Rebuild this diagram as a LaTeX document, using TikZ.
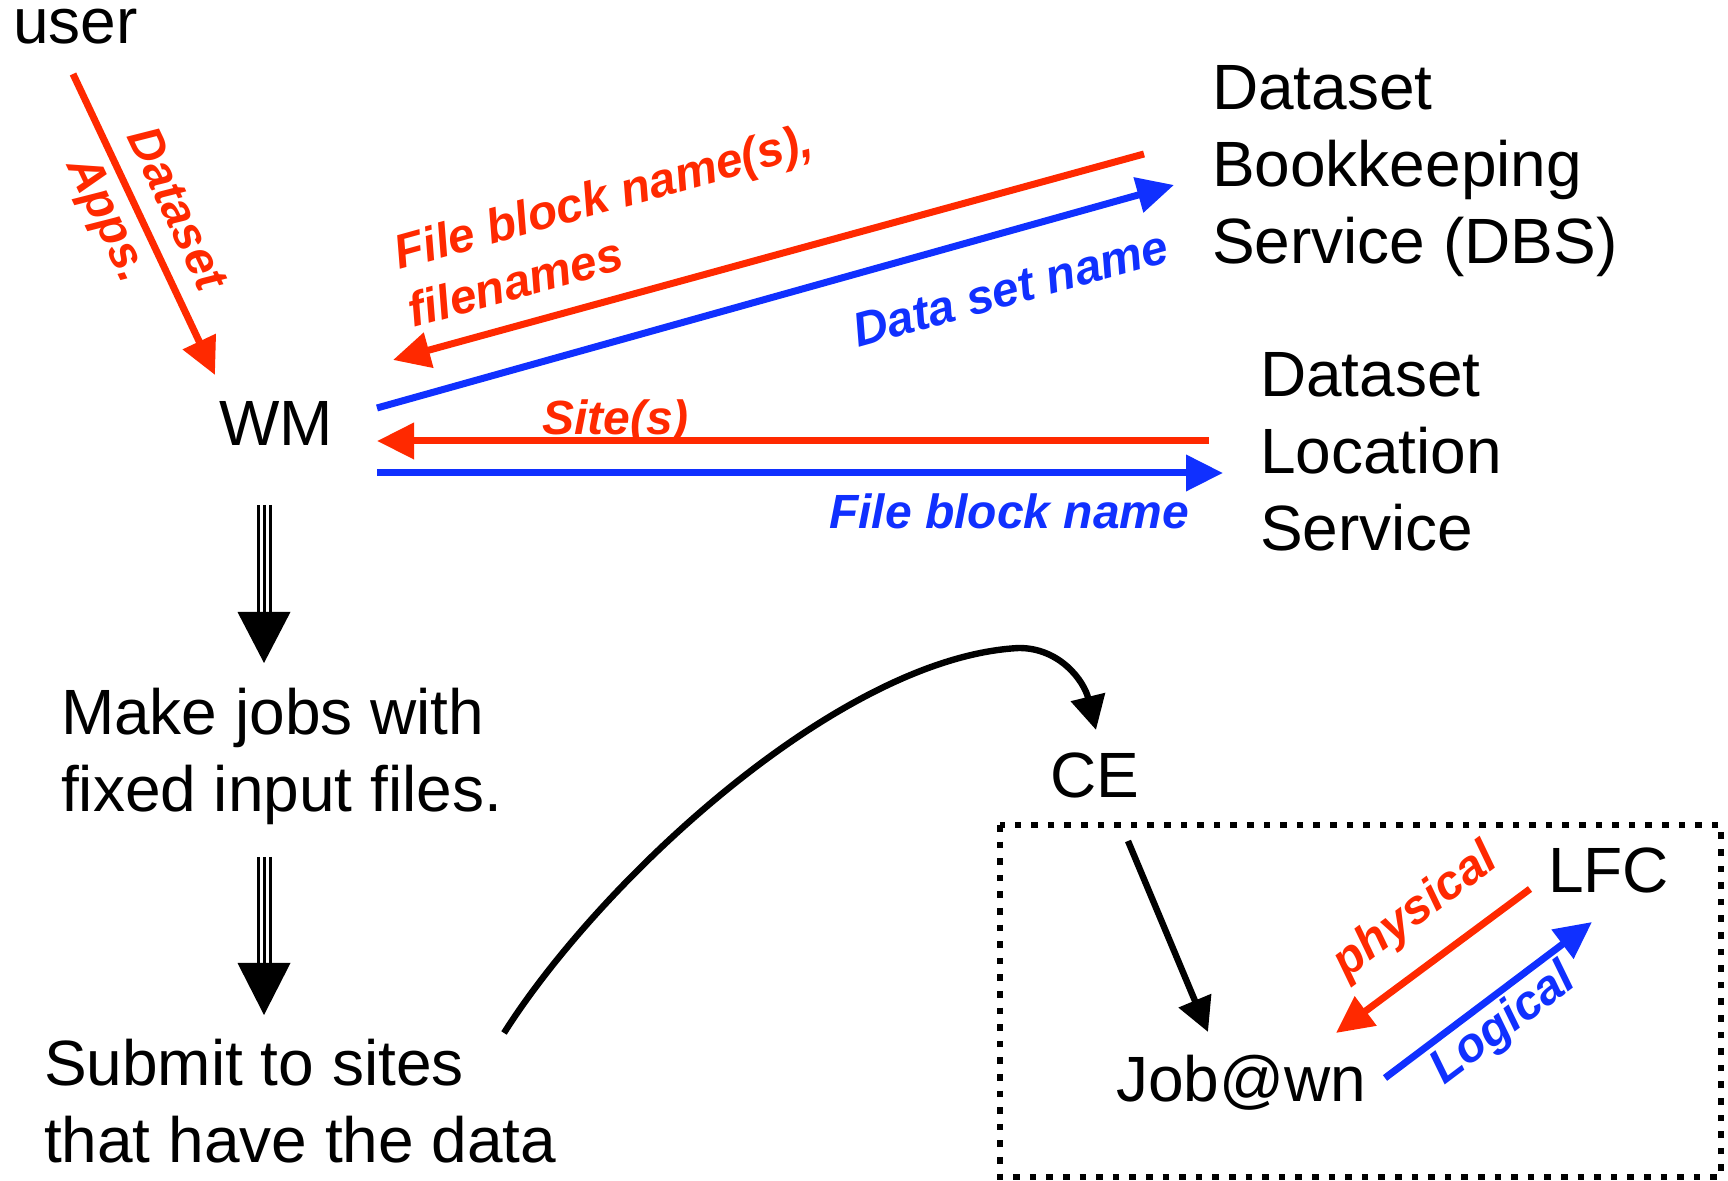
\documentclass[tikz,border=0pt]{standalone}
\usepackage{fontspec}
\setmainfont{Liberation Sans}
\usetikzlibrary{arrows.meta}

\tikzset{
  plain/.style={inner sep=0pt, outer sep=0pt, font=\fontsize{32}{38.5}\selectfont},
  tag/.style={inner sep=0pt, outer sep=0pt, font=\fontsize{24}{30}\selectfont\bfseries\itshape},
  flow/.style={line width=3.5pt, -{Triangle[length=18.5pt,width=17.5pt]}},
  hop/.style={line width=3.2pt, -{Triangle[length=17pt,width=17pt]}},
  triple/.style={draw=drawColor, line width=1.5pt, double=white, double distance=4.5pt},
}

\begin{document}
\begin{tikzpicture}[x=1pt,y=1pt]
\definecolor{drawColor}{RGB}{0,0,0}
\definecolor{redColor}{RGB}{255,41,0}
\definecolor{blueColor}{RGB}{16,48,255}
\path[use as bounding box] (0,0) rectangle (864,590.5);

\node[plain,anchor=base west] (user) at (  6.5,568.5) {user};
\node[plain,anchor=base] (wm) at (138.0,367.5) {WM};
\node[plain,anchor=base west,align=left] (dbs) at (606.0,458.5) {Dataset\\Bookkeeping\\Service (DBS)};
\node[plain,anchor=base west,align=left] (dls) at (630.0,315.0) {Dataset\\Location\\Service};
\node[plain,anchor=base west,align=left] (makejobs) at ( 30.5,184.5) {Make jobs with\\fixed input files.};
\node[plain,anchor=base west,align=left] (submit) at ( 22.0,  9.0) {Submit to sites\\that have the data};
\node[plain,anchor=base] (ce) at (547.5,191.5) {CE};
\node[plain,anchor=base west] (job) at (558.0, 39.5) {Job@wn};
\node[plain,anchor=base west] (lfc) at (774.0,144.0) {LFC};

\coordinate (user-out) at ( 36.5,553.5);
\coordinate (wm-in) at (107.5,403.0);
\coordinate (wm-dbs-out) at (188.5,386.5);
\coordinate (dbs-in) at (587.0,498.0);
\coordinate (dbs-out) at (572.0,513.5);
\coordinate (wm-dbs-in) at (196.5,410.5);
\coordinate (dls-out) at (604.5,370.0);
\coordinate (wm-dls-in) at (188.5,370.0);
\coordinate (wm-dls-out) at (188.5,354.0);
\coordinate (dls-in) at (611.5,354.0);
\coordinate (wm-down) at (132.0,338.0);
\coordinate (makejobs-in) at (132.0,259.0);
\coordinate (makejobs-down) at (132.0,162.0);
\coordinate (submit-in) at (132.0, 83.0);
\coordinate (submit-out) at (252.0, 74.0);
\coordinate (ce-in) at (548.0,225.5);
\coordinate (ce-out) at (564.0,170.0);
\coordinate (job-in) at (604.0, 74.5);
\coordinate (lfc-out) at (765.0,146.0);
\coordinate (job-lfc-in) at (668.0, 74.0);
\coordinate (job-lfc-out) at (692.5, 51.5);
\coordinate (lfc-in) at (796.0,129.5);

\path[draw=redColor,flow] (user-out) -- node[tag,text=redColor,sloped,align=left,pos=0.5] (apps) {Dataset\\[3pt]Apps.} (wm-in);

\path[draw=blueColor,flow] (wm-dbs-out) -- (dbs-in);

\path[draw=redColor,flow] (dbs-out) -- (wm-dbs-in);

\node[tag,text=redColor,anchor=base west,rotate=15.5] (fbnames) at (199.5,455.5) {File block name(s),};

\node[tag,text=redColor,anchor=base west,rotate=15.5] (filenames) at (206.5,426.5) {filenames};

\node[tag,text=blueColor,anchor=base west,rotate=15.5] (dsname) at (429.0,416.5) {Data set name};

\path[draw=redColor,flow] (dls-out) -- (wm-dls-in);

\path[draw=blueColor,flow] (wm-dls-out) -- (dls-in);

\node[tag,text=redColor,anchor=base west] (sites) at (271.0,373.0) {Site(s)};

\node[tag,text=blueColor,anchor=base west] (fbname) at (414.5,326.0) {File block name};

\path[triple] (wm-down) -- ([yshift=25.5pt]makejobs-in);
\path[draw=drawColor,line width=1.5pt] (wm-down) -- ([yshift=25.5pt]makejobs-in);
\path[fill=drawColor] ([shift={(-13.25,25.5)}]makejobs-in) -- ([shift={(13.25,25.5)}]makejobs-in) -- (makejobs-in) -- cycle;

\path[triple] (makejobs-down) -- ([yshift=26pt]submit-in);
\path[draw=drawColor,line width=1.5pt] (makejobs-down) -- ([yshift=26pt]submit-in);
\path[fill=drawColor] ([shift={(-13.25,26)}]submit-in) -- ([shift={(13.25,26)}]submit-in) -- (submit-in) -- cycle;

\path[draw=drawColor,hop] (submit-out) .. controls (300,150) and (420,262) .. (509.5,266.5)
	.. controls (530,266.5) and (542,250) .. (ce-in);

\path[draw=drawColor,line width=3.3pt,dash pattern=on 3.3pt off 5pt] (500.0,178.0) rectangle (860.5,2.0);

\path[draw=drawColor,hop] (ce-out) -- (job-in);

\path[draw=redColor,flow] (lfc-out) -- (job-lfc-in);

\path[draw=blueColor,flow] (job-lfc-out) -- (lfc-in);

\node[tag,text=redColor,rotate=36.6] (physical) at (708.0,134.5) {physical};

\node[tag,text=blueColor,rotate=37.0] (logical) at (752.0, 78.0) {Logical};
\end{tikzpicture}
\end{document}
